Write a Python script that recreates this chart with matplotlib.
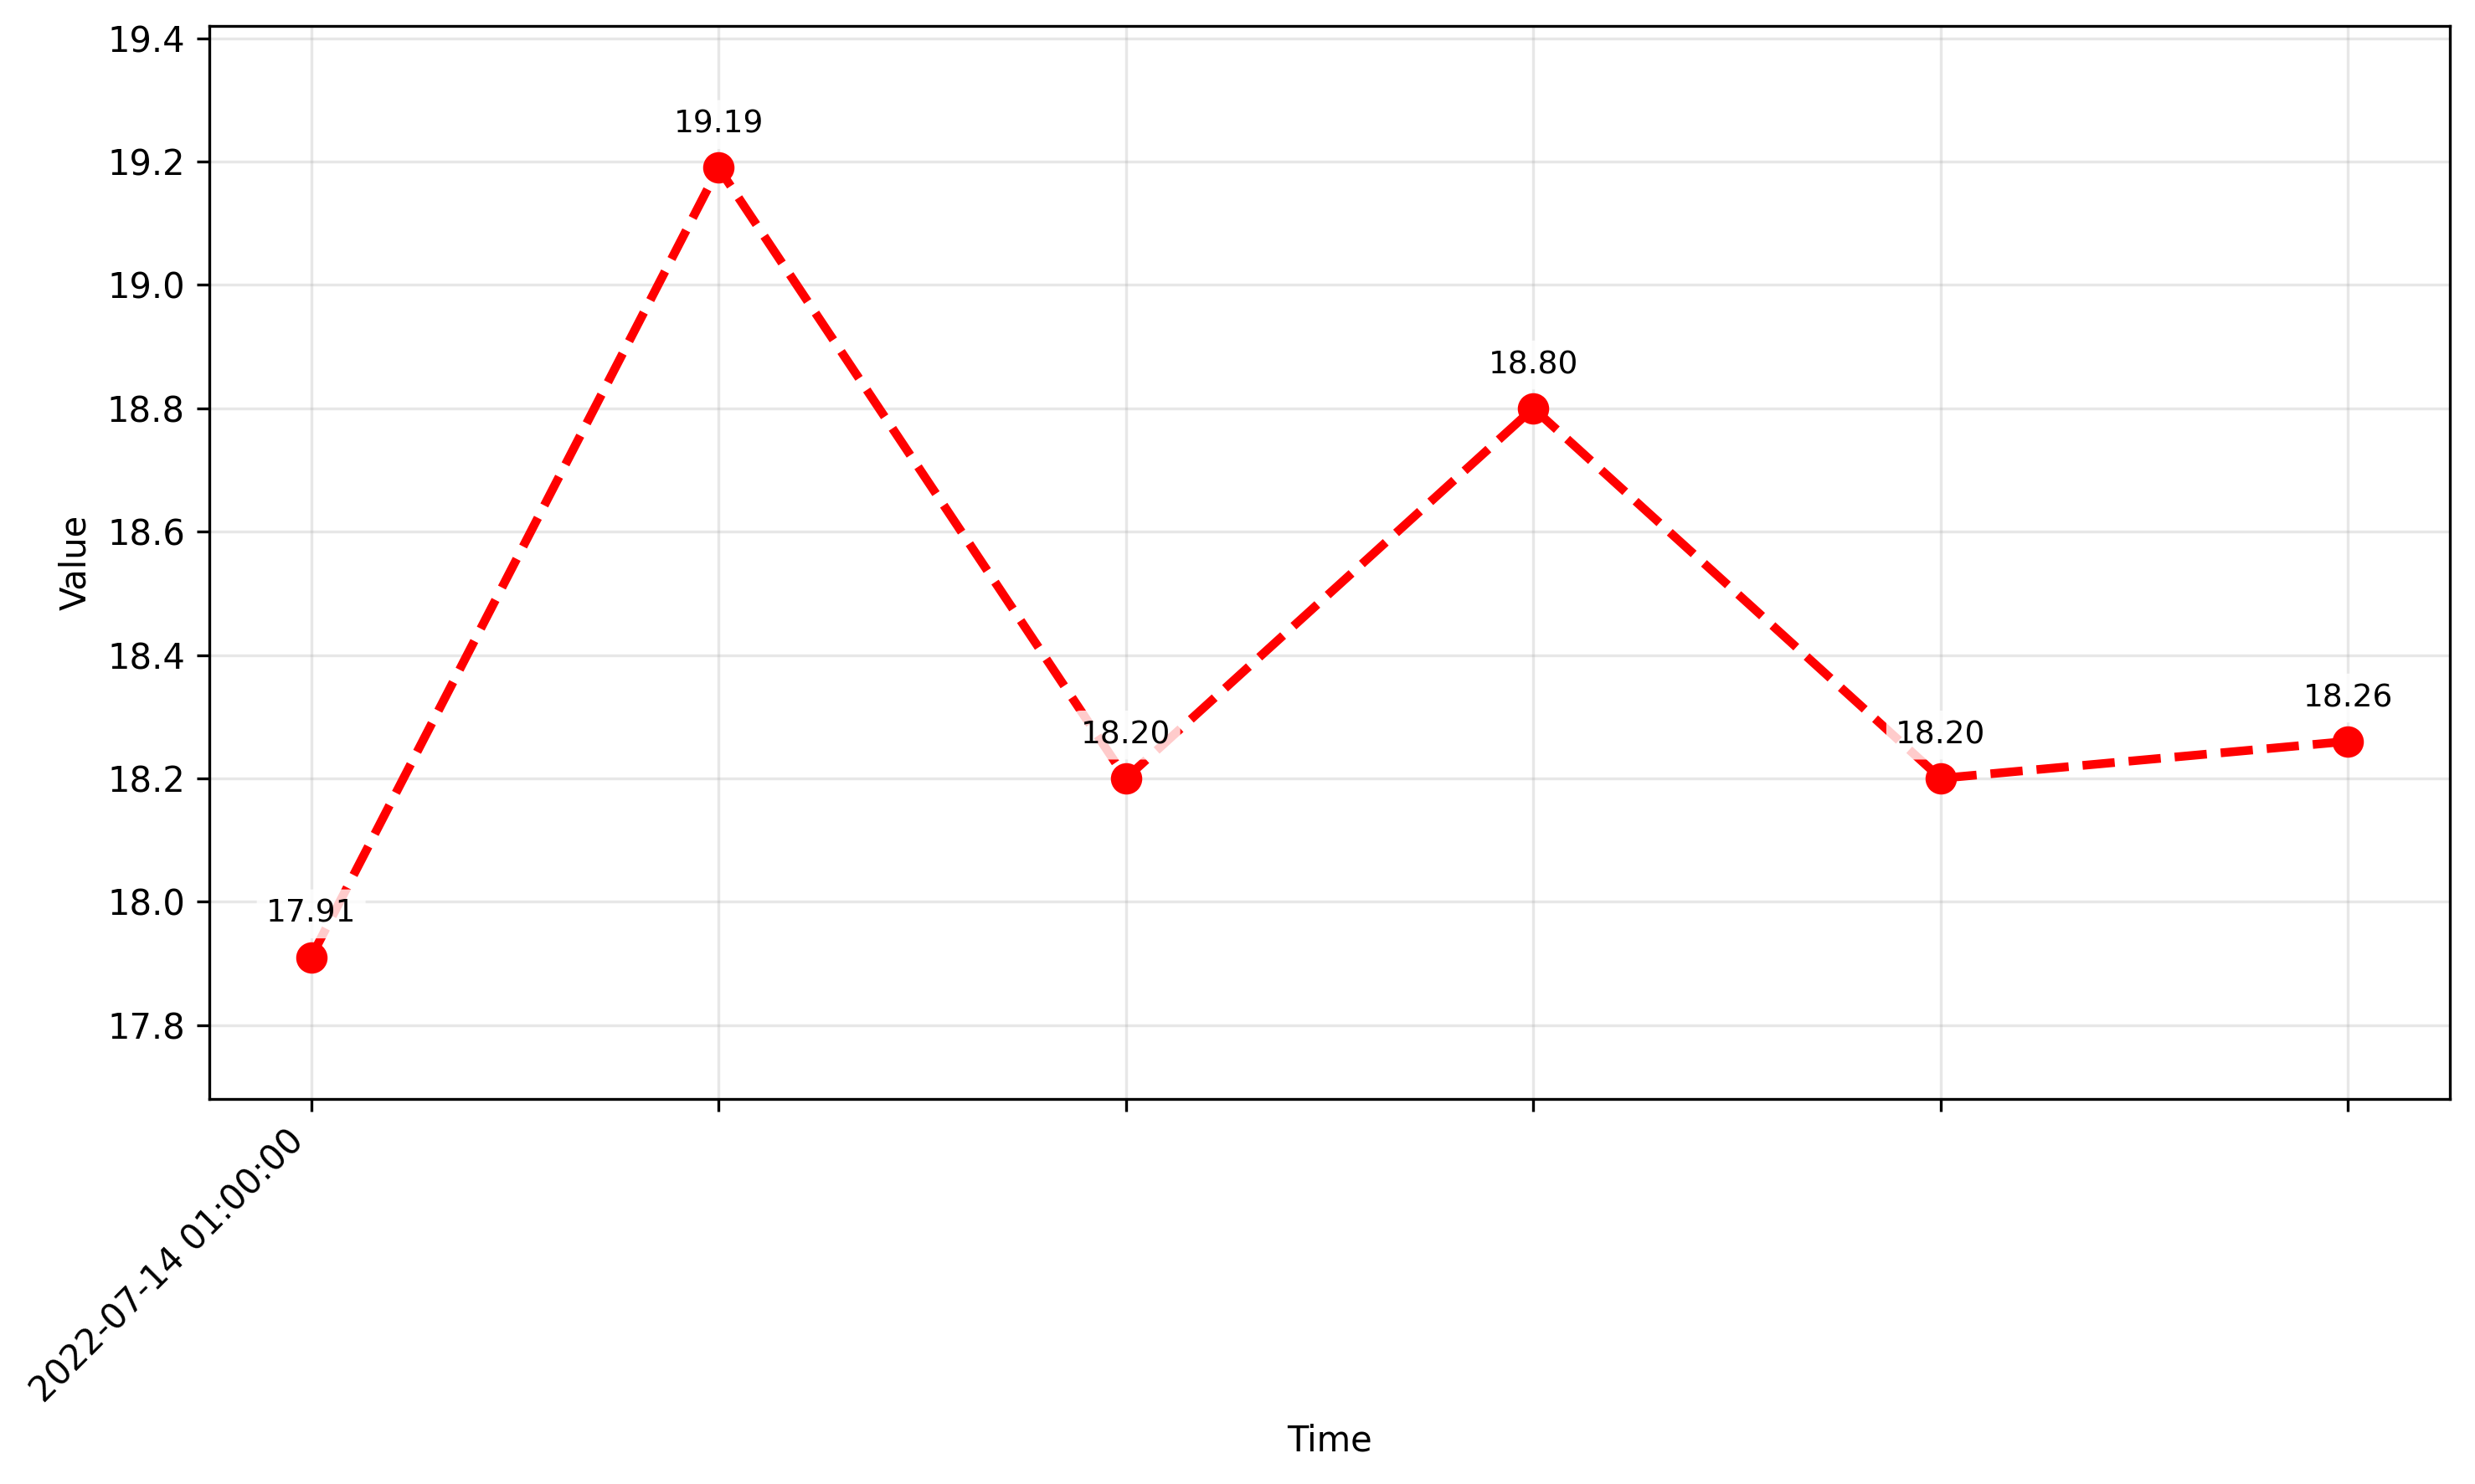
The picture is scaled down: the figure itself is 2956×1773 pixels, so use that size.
import matplotlib
matplotlib.use("Agg")
import matplotlib.pyplot as plt
import numpy as np

# Data
times = ["2022-07-14 01:00:00", "2022-07-14 02:00:00", "2022-07-14 03:00:00",
         "2022-07-14 04:00:00", "2022-07-14 05:00:00", "2022-07-14 06:00:00"]
values = [17.91, 19.19, 18.20, 18.80, 18.20, 18.26]
tick_labels = ["2022-07-14 01:00:00", "", "", "", "", ""]

W, H = 2956, 1773
fig = plt.figure(figsize=(W / 300, H / 300), dpi=300)
ax = fig.add_axes([250 / W, 1 - 1313 / H, (2926 - 250) / W, (1313 - 31) / H])

x = np.arange(len(values))
ax.plot(x, values, color="red", linestyle="--", linewidth=2.5,
        marker="o", markersize=8, zorder=3)

for xi, v in zip(x, values):
    ax.annotate(f"{v:.2f}", (xi, v), xytext=(0, 10), textcoords="offset points",
                ha="center", fontsize=9,
                bbox=dict(boxstyle="round,pad=0.3", facecolor="white",
                          edgecolor="none", alpha=0.8), zorder=4)

ax.set_xlim(-0.25, len(values) - 0.75)
ax.set_ylim(17.68, 19.42)
ax.set_yticks([17.8, 18.0, 18.2, 18.4, 18.6, 18.8, 19.0, 19.2, 19.4])
ax.set_xticks(x)
ax.set_xticklabels(tick_labels, rotation=45, ha="right")
ax.grid(True, alpha=0.3)
ax.set_xlabel("Time")
ax.set_ylabel("Value")

fig.savefig("out.png", dpi=300)
